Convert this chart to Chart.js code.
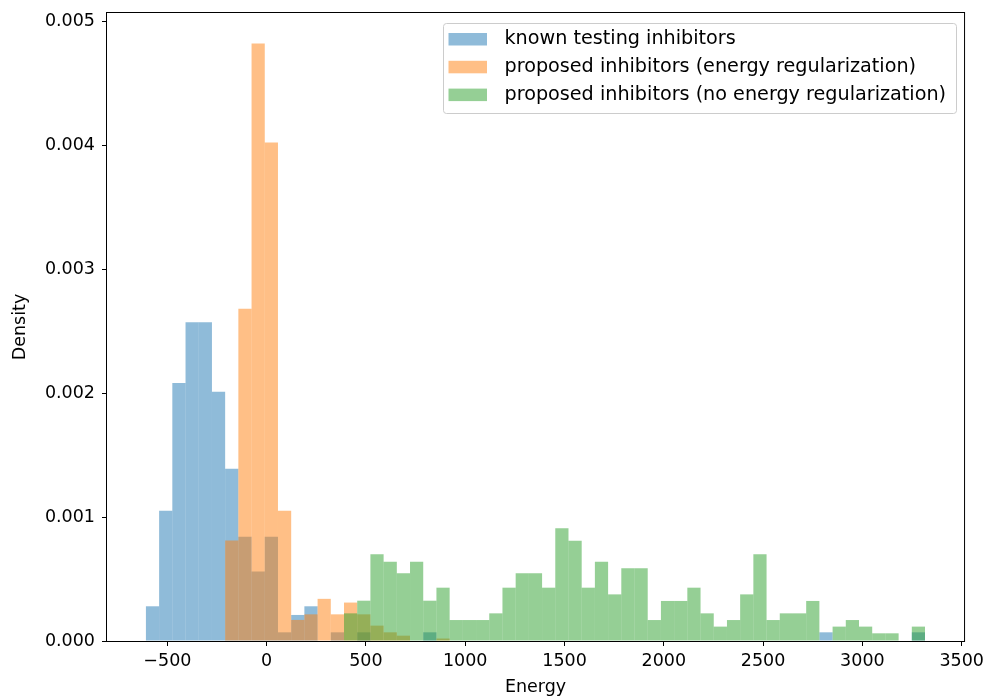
<!DOCTYPE html>
<html>
<head>
<meta charset="utf-8">
<script src="https://cdn.jsdelivr.net/npm/chart.js@4.4.0/dist/chart.umd.min.js"></script>
<style>
  html, body { margin: 0; padding: 0; background: #fff; }
  #wrap { width: 989px; height: 698px; }
</style>
</head>
<body>
<div id="wrap"><canvas id="myChart" width="989" height="698"></canvas></div>
<script>
// bins of the histogram : 59 bins of the same width, first left edge at binStart
const binStart = -608;
const binWidth = 66.5;

// density of each bin
const knownTesting = [
    0.00028, 0.00105, 0.00208, 0.00257, 0.00257, 0.00201, 0.00139, 0.00084, 0.00056, 0.00084,
    0.00007, 0.00021, 0.00028, 0, 0.00007, 0, 0.00007, 0, 0, 0,
    0, 0.00007, 0, 0, 0, 0, 0, 0, 0, 0,
    0, 0, 0, 0, 0, 0, 0, 0, 0, 0,
    0, 0, 0, 0, 0, 0, 0, 0, 0, 0,
    0, 0.00007, 0, 0, 0, 0, 0, 0, 0.00007
];
const proposedEnergy = [
    0, 0, 0, 0, 0, 0, 0.00081, 0.00268, 0.00482, 0.00402,
    0.00105, 0.00017, 0.000215, 0.00034, 0.000215, 0.00031, 0.000215, 0.000124, 0.00007, 0.000043,
    0, 0, 0.00002, 0, 0, 0, 0, 0, 0, 0,
    0, 0, 0, 0, 0, 0, 0, 0, 0, 0,
    0, 0, 0, 0, 0, 0, 0, 0, 0, 0,
    0, 0, 0, 0, 0, 0, 0, 0, 0
];
const proposedNoEnergy = [
    0, 0, 0, 0, 0, 0, 0, 0, 0, 0,
    0, 0, 0, 0, 0, 0.000223, 0.000325, 0.000699, 0.00064, 0.000546,
    0.00064, 0.000325, 0.00043, 0.000169, 0.000169, 0.000169, 0.000223, 0.00043, 0.000546, 0.000546,
    0.00043, 0.000909, 0.000809, 0.00043, 0.00064, 0.000376, 0.000586, 0.000586, 0.000169, 0.000323,
    0.000323, 0.00043, 0.000223, 0.000116, 0.000169, 0.000376, 0.000699, 0.000169, 0.000223, 0.000223,
    0.000323, 0, 0.000116, 0.000169, 0.000116, 0.000062, 0.000062, 0, 0.000116
];

const seriesNames = [
    'known testing inhibitors',
    'proposed inhibitors (energy regularization)',
    'proposed inhibitors (no energy regularization)'
];
const xTicks = [-500, 0, 500, 1000, 1500, 2000, 2500, 3000, 3500];
const yTicks = [0, 0.001, 0.002, 0.003, 0.004, 0.005];

function toPoints(values) {
    return values.map((v, k) => ({ x: binStart + binWidth * (k + 0.5), y: v }));
}

const FONT = 'DejaVu Sans';
Chart.defaults.font.family = FONT;
Chart.defaults.color = '#000';

// frame on the 4 sides + legend box like matplotlib (upper right)
const frameAndLegend = {
    id: 'frameAndLegend',
    afterDraw(chart) {
        const ctx = chart.ctx;
        const a = chart.chartArea;
        ctx.save();
        ctx.strokeStyle = '#000';
        ctx.lineWidth = 1;
        ctx.strokeRect(a.left - 0.5, a.top - 0.5, a.right - a.left + 1, a.bottom - a.top + 1);

        ctx.beginPath();
        ctx.roundRect(443.5, 23.5, 513, 90, 3);
        ctx.fillStyle = 'rgba(255,255,255,0.8)';
        ctx.fill();
        ctx.strokeStyle = '#cccccc';
        ctx.stroke();

        ctx.font = '19.2px "' + FONT + '"';
        ctx.textBaseline = 'middle';
        chart.data.datasets.forEach(function (ds, i) {
            let cy = 39 + i * 27.8;
            ctx.fillStyle = ds.backgroundColor;
            ctx.fillRect(448.5, cy - 6, 38.5, 12.5);
            ctx.fillStyle = '#000';
            ctx.fillText(ds.label, 504.5, cy);
        });
        ctx.restore();
    }
};

const ctx = document.getElementById('myChart').getContext('2d');
const myChart = new Chart(ctx, {
    type: 'bar',
    data: {
        datasets: [{
            label: seriesNames[0],
            data: toPoints(knownTesting),
            backgroundColor: 'rgba(31,119,180,0.5)',
            order: 3
        }, {
            label: seriesNames[1],
            data: toPoints(proposedEnergy),
            backgroundColor: 'rgba(255,127,14,0.5)',
            order: 2
        }, {
            label: seriesNames[2],
            data: toPoints(proposedNoEnergy),
            backgroundColor: 'rgba(44,160,44,0.5)',
            order: 1
        }]
    },
    options: {
        responsive: false,
        animation: false,
        devicePixelRatio: 1,
        layout: { padding: { top: 13, right: 24, left: 0, bottom: 0 } },
        datasets: {
            bar: {
                grouped: false,
                barPercentage: 1,
                categoryPercentage: 1,
                borderWidth: 0,
                inflateAmount: 0
            }
        },
        plugins: {
            legend: { display: false },
            tooltip: { enabled: false }
        },
        scales: {
            x: {
                type: 'linear',
                min: -804,
                max: 3512,
                offset: false,
                afterBuildTicks: function (s) { s.ticks = xTicks.map(v => ({ value: v })); },
                afterFit: function (s) { s.height = 57; },
                grid: { display: true, drawOnChartArea: false, drawTicks: true, tickLength: 5, color: '#000', offset: false },
                border: { display: false },
                ticks: {
                    font: { size: 17.5 },
                    padding: 5,
                    maxRotation: 0,
                    autoSkip: false,
                    callback: function (v) { return v < 0 ? '\u2212' + Math.abs(v) : String(v); }
                },
                title: { display: true, text: 'Energy', font: { size: 17.5 }, padding: { top: 0, bottom: 0 } }
            },
            y: {
                min: 0,
                max: 0.005065,
                afterBuildTicks: function (s) { s.ticks = yTicks.map(v => ({ value: v })); },
                afterFit: function (s) { s.width = 107; },
                grid: { display: true, drawOnChartArea: false, drawTicks: true, tickLength: 5, color: '#000' },
                border: { display: false },
                ticks: {
                    // small lineHeight so the top label does not push the plot area down
                    font: { size: 17.5, lineHeight: 0.65 },
                    padding: 7,
                    callback: function (v) { return v.toFixed(3); }
                },
                title: { display: true, text: 'Density', font: { size: 17.5 }, padding: { top: 10, bottom: 0 } }
            }
        }
    },
    plugins: [frameAndLegend]
});
</script>
</body>
</html>
